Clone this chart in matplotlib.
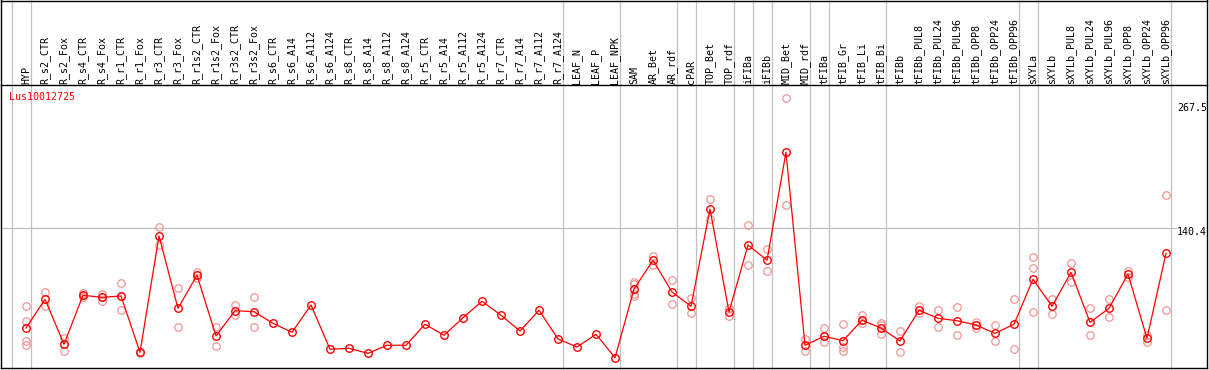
import numpy as np
import matplotlib.pyplot as plt
from matplotlib.lines import Line2D
import matplotlib.transforms as mtransforms

#-----------------------------------------
# data
#-----------------------------------------

gene = 'Lus10012725'

samples = ['HYP', 'R_s2_CTR', 'R_s2_Fox', 'R_s4_CTR', 'R_s4_Fox', 'R_r1_CTR', 'R_r1_Fox',
           'R_r3_CTR', 'R_r3_Fox', 'R_r1s2_CTR', 'R_r1s2_Fox', 'R_r3s2_CTR', 'R_r3s2_Fox',
           'R_s6_CTR', 'R_s6_A14', 'R_s6_A112', 'R_s6_A124', 'R_s8_CTR', 'R_s8_A14',
           'R_s8_A112', 'R_s8_A124', 'R_r5_CTR', 'R_r5_A14', 'R_r5_A112', 'R_r5_A124',
           'R_r7_CTR', 'R_r7_A14', 'R_r7_A112', 'R_r7_A124', 'LEAF_N', 'LEAF_P', 'LEAF_NPK',
           'SAM', 'AR_Bet', 'AR_rdf', 'cPAR', 'TOP_Bet', 'TOP_rdf', 'iFIBa', 'iFIBb',
           'MID_Bet', 'MID_rdf', 'tFIBa', 'tFIB_Gr', 'tFIB_Li', 'tFIB_Bi', 'tFIBb',
           'tFIBb_PUL8', 'tFIBb_PUL24', 'tFIBb_PUL96', 'tFIBb_OPP8', 'tFIBb_OPP24',
           'tFIBb_OPP96', 'sXYLa', 'sXYLb', 'sXYLb_PUL8', 'sXYLb_PUL24', 'sXYLb_PUL96',
           'sXYLb_OPP8', 'sXYLb_OPP24', 'sXYLb_OPP96']

means = [42.4, 70.6, 26.5, 74.5, 72.5, 73.8, 18.6, 132.6, 61.7, 94.1, 34.6, 59.4, 58.4,
         47.0, 38.2, 65.0, 21.6, 22.5, 17.6, 25.5, 25.5, 46.1, 35.3, 52.5, 68.6,
         54.9, 39.5, 59.8, 31.7, 23.8, 36.3, 13.3,
         80.6, 108.8, 77.7, 63.7, 159.0, 58.1, 123.8, 108.8,
         214.6, 25.5, 34.3, 30.0, 50.0, 42.4, 29.7,
         59.8, 51.9, 49.6, 45.4, 37.2, 46.1,
         90.2, 63.7, 97.0, 48.0, 61.7, 95.3, 32.3, 115.6]

replicates = [[64.0, 49.6, 30.0, 25.5], [77.7, 64.0], [32.3, 26.5, 20.2], [77.0, 74.5, 72.8],
              [75.7, 72.5, 69.2], [86.2, 73.8, 60.1], [19.4, 17.9], [141.4, 123.5],
              [81.3, 43.1], [97.6, 94.1, 91.4], [43.1, 24.5], [65.0, 55.2], [72.5, 43.1],
              [], [], [], [], [], [], [], [], [], [], [], [], [], [], [], [], [], [], [],
              [87.8, 85.5, 75.7, 73.8], [113.3, 104.2], [89.2, 65.7], [71.5, 56.8],
              [168.8, 148.9], [61.7, 54.2], [143.4, 103.9], [119.8, 98.0],
              [267.5, 162.7], [31.4, 20.2], [42.4, 34.3, 28.4], [46.1, 24.1, 19.9],
              [55.2, 50.0, 47.0], [47.0, 45.1, 36.3], [39.2, 18.6],
              [64.0, 56.8], [60.1, 43.1], [62.7, 35.3], [48.0, 45.4, 42.4], [45.1, 29.4],
              [70.6, 21.6], [111.7, 100.9, 57.8], [71.1, 55.9], [105.8, 87.2],
              [61.7, 35.3], [70.6, 52.9], [98.6, 92.7], [35.6, 29.0], [172.5, 59.8]]

# index of the last sample in each group (a grey separator follows it)
group_ends = [-1, 0, 28, 31, 34, 35, 37, 38, 39, 41, 42, 45, 52, 53, 60]

ytick_values = [267.5, 140.4, 0]
ytick_labels = ['267.5', '140.4', '0']

#-----------------------------------------
# layout (pixels)
#-----------------------------------------

W, H = 1209, 370
X0, DX = 26, 19          # pixel x of first sample, step between samples
Y0, PPU = 371.3, 1.0205  # pixel y of value 0, pixels per unit

def px(x):
    return x / W

def py(y):
    return 1 - y / H

plt.rcParams['font.family'] = 'DejaVu Sans Mono'
plt.rcParams['font.size'] = 7.2

fig = plt.figure(figsize=(W / 100, H / 100), dpi=100)
ax = fig.add_axes([0, 0, 1, 1])
ax.set_xlim(-X0 / DX, (W - X0) / DX)
ax.set_ylim((Y0 - H) / PPU, Y0 / PPU)
ax.axis('off')

x = np.arange(len(samples))
grey = '#c0c0c0'

# group separators and the mid grid line
for g in group_ends:
    ax.axvline(g + 5 / DX, color=grey, lw=0.9, zorder=1)
ax.hlines(ytick_values[1], -X0 / DX, (1177 - X0) / DX, color=grey, lw=0.9, zorder=1)

# replicates
rx = np.concatenate([[i] * len(r) for i, r in enumerate(replicates)])
ry = np.concatenate([r for r in replicates])
ax.plot(rx, ry, 'o', mfc='none', mec='#f09595', ms=5.4, mew=0.9, zorder=2)

# means
ax.plot(x, means, '-o', color='red', mfc='none', ms=5.4, mew=1.0, lw=0.9, zorder=3)

# sample names in header
trans = mtransforms.blended_transform_factory(ax.transData, ax.transAxes)
for i, s in enumerate(samples):
    ax.text(i, py(83.5), s, rotation=90, ha='center', va='bottom', transform=trans)

# gene name
fig.text(px(9), py(97), gene, color='red', ha='left', va='center')

# value labels on the right
offsets = [-9.4, -3.7, 9.6]
for v, lab, off in zip(ytick_values, ytick_labels, offsets):
    ax.annotate(lab, xy=((1177 - X0) / DX, v), xytext=(0, off),
                textcoords='offset pixels', ha='left', va='center')

# frame
fig.add_artist(plt.Rectangle((px(1207.5), 0), 1, 1, transform=fig.transFigure,
                             color='white', zorder=10))
for xs, ys in [([1, 1207], [0.5, 0.5]), ([1, 1207], [85, 85]), ([1, 1207], [368, 368]),
               ([1, 1], [0, 368]), ([1207, 1207], [0, 368])]:
    fig.add_artist(Line2D([px(v) for v in xs], [py(v) for v in ys], color='black',
                          lw=1.0, transform=fig.transFigure, zorder=11))

plt.savefig('out.png', dpi=100)
